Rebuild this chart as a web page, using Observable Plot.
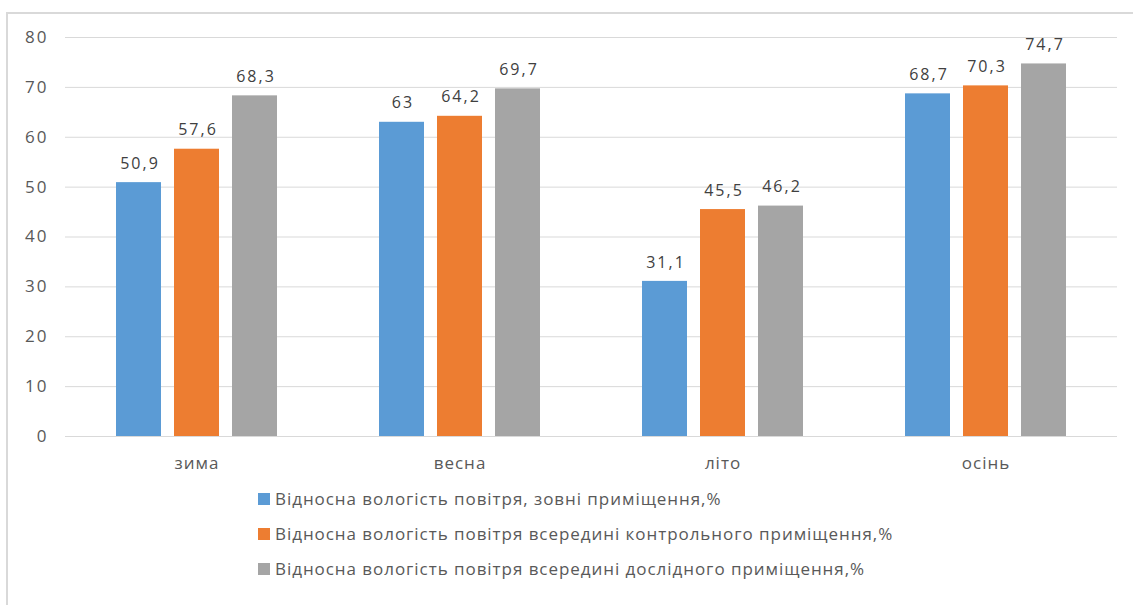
<!DOCTYPE html>
<html>
<head>
<meta charset="utf-8">
<script src="https://cdn.jsdelivr.net/npm/d3@7"></script>
<script src="https://cdn.jsdelivr.net/npm/@observablehq/plot@0.6"></script>
<style>
  html, body { margin: 0; padding: 0; background: #fff; }
  body { width: 1133px; height: 605px; position: relative; overflow: hidden; font-family: "Open Sans", Lato, sans-serif; }
  #frame { position: absolute; left: 6px; top: 12px; width: 1300px; height: 700px; border-left: 2px solid #d9d9d9; border-top: 2px solid #d9d9d9; }
  #chart { position: absolute; left: 0; top: 0; }
  #legend { position: absolute; left: 258px; top: 481px; color: #595959; font-size: 17px; letter-spacing: 0.95px; }
  .row { display: flex; align-items: center; height: 35px; white-space: nowrap; }
  .sw { width: 12px; height: 12px; margin-right: 5px; flex: none; }
</style>
</head>
<body>
<div id="frame"></div>
<div id="chart"></div>
<div id="legend"></div>
<script>
const seasons = ["зима", "весна", "літо", "осінь"];
const seriesNames = [
  "Відносна вологість повітря, зовні приміщення,%",
  "Відносна вологість повітря всередині контрольного приміщення,%",
  "Відносна вологість повітря всередині дослідного приміщення,%"
];
const outsideValues = [50.9, 63, 31.1, 68.7];
const controlValues = [57.6, 64.2, 45.5, 70.3];
const experimentValues = [68.3, 69.7, 46.2, 74.7];
const colors = ["#5b9bd5", "#ed7d31", "#a5a5a5"];
const yTicks = [0, 10, 20, 30, 40, 50, 60, 70, 80];

const allValues = [outsideValues, controlValues, experimentValues];
const data = [];
seasons.forEach((s, i) => {
  seriesNames.forEach((n, j) => data.push({season: s, series: n, value: allValues[j][i]}));
});

const fmt = v => String(v).replace(".", ",");

const chart = Plot.plot({
  width: 1133,
  height: 480,
  marginLeft: 64,
  marginRight: 15,
  marginTop: 37,
  marginBottom: 44,
  style: {fontFamily: '"Open Sans", Lato, sans-serif', fontSize: "17px", color: "#595959", background: "transparent"},
  fx: {domain: seasons, padding: 0, label: null},
  x: {domain: seriesNames, axis: null, paddingInner: 0.224, paddingOuter: 0.879},
  y: {domain: [0, 80], label: null},
  color: {domain: seriesNames, range: colors},
  marks: [
    Plot.gridY(yTicks, {stroke: "#d9d9d9", strokeOpacity: 1}),
    Plot.axisY(yTicks, {tickSize: 0, tickPadding: 17, fontSize: 17, fill: "#595959", tickFormat: d => d, label: null}),
    Plot.axisFx({anchor: "bottom", tickSize: 0, tickPadding: 20, fontSize: 17, fill: "#595959", label: null}),
    Plot.barY(data, {fx: "season", x: "series", y: "value", fill: "series"}),
    Plot.text(data, {fx: "season", x: "series", y: "value", text: d => fmt(d.value), dy: -19, dx: 1, fontSize: 16, fill: "#404040"})
  ]
});
chart.querySelectorAll('g[aria-label="text"] text').forEach(t => t.style.letterSpacing = "2px");
chart.querySelectorAll('g[aria-label="y-axis tick label"] text').forEach(t => t.style.letterSpacing = "2px");
chart.querySelectorAll('g[aria-label="fx-axis tick label"] text').forEach(t => t.style.letterSpacing = "1px");
document.getElementById("chart").appendChild(chart);

const legend = document.getElementById("legend");
seriesNames.forEach((n, j) => {
  const row = document.createElement("div");
  row.className = "row";
  const sw = document.createElement("span");
  sw.className = "sw";
  sw.style.background = colors[j];
  const t = document.createElement("span");
  t.textContent = n;
  row.appendChild(sw);
  row.appendChild(t);
  legend.appendChild(row);
});
</script>
</body>
</html>
